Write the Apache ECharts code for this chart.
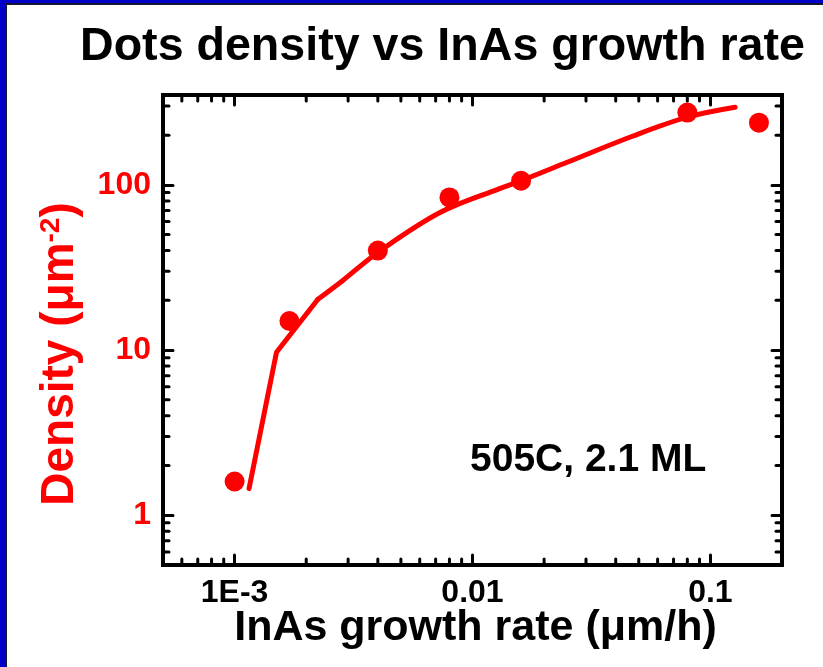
<!DOCTYPE html>
<html><head><meta charset="utf-8">
<script src="https://cdn.jsdelivr.net/npm/echarts@6/dist/echarts.min.js"></script>
<style>
html,body{margin:0;padding:0;background:#fff;}
#c{position:absolute;left:0;top:0;width:823px;height:667px;}
#b{position:absolute;left:0;top:0;width:823px;height:667px;box-sizing:border-box;border-left:5px solid #0000c8;border-top:3px solid #0000c8;pointer-events:none;}
#b2{position:absolute;left:0;top:0;width:100%;height:100%;box-sizing:border-box;border-left:2px solid #151530;border-top:2px solid #151530;}
</style>
</head><body><div id="c"></div><div id="b"><div id="b2"></div></div>
<script>
// ---- data ----
const pointX = [0.001, 0.0017, 0.004, 0.008, 0.016, 0.08, 0.16];
const pointY = [1.6, 15, 40, 84, 106, 274, 238];
// fitted curve: straight segments up to the third point, smooth afterwards
const fitX = [0.00115, 0.0015, 0.00224, 0.00285, 0.004, 0.0073, 0.013, 0.016, 0.025, 0.047, 0.08, 0.127];
const fitY = [1.45, 9.7, 20.3, 26.4, 39, 68, 95, 106, 137, 197, 257, 295];
const fitKink = 2; // index where the straight part ends
const xTickValues = [0.001, 0.01, 0.1];
const xTickLabels = ['1E-3', '0.01', '0.1'];
const yTickValues = [1, 10, 100];
const yTickLabels = ['1', '10', '100'];
const xMinorTicks = [0.0006, 0.0007, 0.0008, 0.0009, 0.002, 0.003, 0.004, 0.005, 0.006, 0.007, 0.008, 0.009, 0.02, 0.03, 0.04, 0.05, 0.06, 0.07, 0.08, 0.09];
const yMinorTicks = [0.6, 0.7, 0.8, 0.9, 2, 3, 4, 5, 6, 7, 8, 9, 20, 30, 40, 50, 60, 70, 80, 90, 200, 300];
const xMin = 0.0005, xMax = 0.2, yMin = 0.5, yMax = 350;

const FONT = '"Liberation Sans", Arial, Helvetica, sans-serif';

function labelFor(v, vals, labels) {
  for (let i = 0; i < vals.length; i++) {
    if (Math.abs(Math.log10(v) - Math.log10(vals[i])) < 1e-6) return labels[i];
  }
  return '';
}

const lineCommon = { show: true, onZero: false, lineStyle: { color: '#000', width: 4, cap: 'square' } };
const tickCommon = { show: true, inside: true, length: 10, lineStyle: { color: '#000', width: 3, cap: 'round' } };
const tickLabel = { fontSize: 32, fontWeight: 'bold', fontFamily: FONT };

const chart = echarts.init(document.getElementById('c'), null, { renderer: 'canvas' });

const tickStyle = { stroke: '#000', lineWidth: 3, lineCap: 'round' };
const MINOR = 6;
const fitStyle = { color: '#f00', width: 5, cap: 'round', join: 'round' };
const fitPairs = fitX.map((x, i) => [x, fitY[i]]);

chart.setOption({
  animation: false,
  backgroundColor: '#fff',
  title: {
    text: 'Dots density vs InAs growth rate',
    left: 80, top: 24, padding: 0,
    textStyle: { fontSize: 46.6, fontWeight: 'bold', color: '#000', fontFamily: FONT }
  },
  grid: { left: 163, right: 41, top: 95, bottom: 102 },
  xAxis: [
    {
      type: 'log', logBase: 10, min: xMin, max: xMax, position: 'bottom',
      axisLine: lineCommon, axisTick: tickCommon, splitLine: { show: false },
      axisLabel: Object.assign({ color: '#000', margin: 12, showMinLabel: false, showMaxLabel: false,
        formatter: v => labelFor(v, xTickValues, xTickLabels) }, tickLabel),
      name: 'InAs growth rate (μm/h)', nameLocation: 'middle', nameGap: 42, nameMoveOverlap: false,
      nameTextStyle: { color: '#000', fontSize: 43, fontWeight: 'bold', fontFamily: FONT, padding: [0, 0, 0, 6] }
    },
    {
      type: 'log', logBase: 10, min: xMin, max: xMax, position: 'top',
      axisLine: lineCommon, axisTick: tickCommon, splitLine: { show: false },
      axisLabel: { show: false }
    }
  ],
  yAxis: [
    {
      type: 'log', logBase: 10, min: yMin, max: yMax, position: 'left',
      axisLine: lineCommon, axisTick: tickCommon, splitLine: { show: false },
      axisLabel: Object.assign({ color: '#f00', margin: 12, showMinLabel: false, showMaxLabel: false,
        formatter: v => labelFor(v, yTickValues, yTickLabels) }, tickLabel),
      name: '{a|Density (μm}{s|-2}{a|)}', nameLocation: 'middle', nameGap: 80, nameMoveOverlap: false,
      nameTextStyle: {
        color: '#f00', fontWeight: 'bold', fontFamily: FONT, fontSize: 46, padding: [0, 48, 0, 0],
        rich: {
          a: { fontSize: 46, fontWeight: 'bold', fontFamily: FONT, color: '#f00' },
          s: { fontSize: 28, fontWeight: 'bold', fontFamily: FONT, color: '#f00', verticalAlign: 'top' }
        }
      }
    },
    {
      type: 'log', logBase: 10, min: yMin, max: yMax, position: 'right',
      axisLine: lineCommon, axisTick: tickCommon, splitLine: { show: false },
      axisLabel: { show: false }
    }
  ],
  graphic: [
    { type: 'text', left: 470, top: 441, z: 10,
      style: { text: '505C, 2.1 ML', font: 'bold 39px ' + FONT, fill: '#000' } }
  ],
  series: [
    {
      type: 'custom', xAxisIndex: 0, yAxisIndex: 0, silent: true, clip: false, z: 5,
      data: xMinorTicks.map(v => [v, yMin]),
      renderItem: (params, api) => {
        const b = api.coord([api.value(0), yMin]);
        const t = api.coord([api.value(0), yMax]);
        return { type: 'group', children: [
          { type: 'line', shape: { x1: b[0], y1: b[1], x2: b[0], y2: b[1] - MINOR }, style: tickStyle },
          { type: 'line', shape: { x1: t[0], y1: t[1], x2: t[0], y2: t[1] + MINOR }, style: tickStyle }
        ]};
      }
    },
    {
      type: 'custom', xAxisIndex: 0, yAxisIndex: 0, silent: true, clip: false, z: 5,
      data: yMinorTicks.map(v => [xMin, v]),
      renderItem: (params, api) => {
        const l = api.coord([xMin, api.value(1)]);
        const r = api.coord([xMax, api.value(1)]);
        return { type: 'group', children: [
          { type: 'line', shape: { x1: l[0], y1: l[1], x2: l[0] + MINOR, y2: l[1] }, style: tickStyle },
          { type: 'line', shape: { x1: r[0], y1: r[1], x2: r[0] - MINOR, y2: r[1] }, style: tickStyle }
        ]};
      }
    },
    {
      type: 'line', xAxisIndex: 0, yAxisIndex: 0, z: 2,
      data: fitPairs.slice(0, fitKink + 1),
      showSymbol: false, symbol: 'none', smooth: false,
      lineStyle: fitStyle
    },
    {
      type: 'line', xAxisIndex: 0, yAxisIndex: 0, z: 2,
      data: fitPairs.slice(fitKink),
      showSymbol: false, symbol: 'none', smooth: 0.35,
      lineStyle: fitStyle
    },
    {
      type: 'scatter', xAxisIndex: 0, yAxisIndex: 0, z: 3,
      data: pointX.map((x, i) => [x, pointY[i]]),
      symbol: 'circle', symbolSize: 20,
      itemStyle: { color: '#f00', opacity: 1 }
    }
  ]
});
</script>
</body></html>
